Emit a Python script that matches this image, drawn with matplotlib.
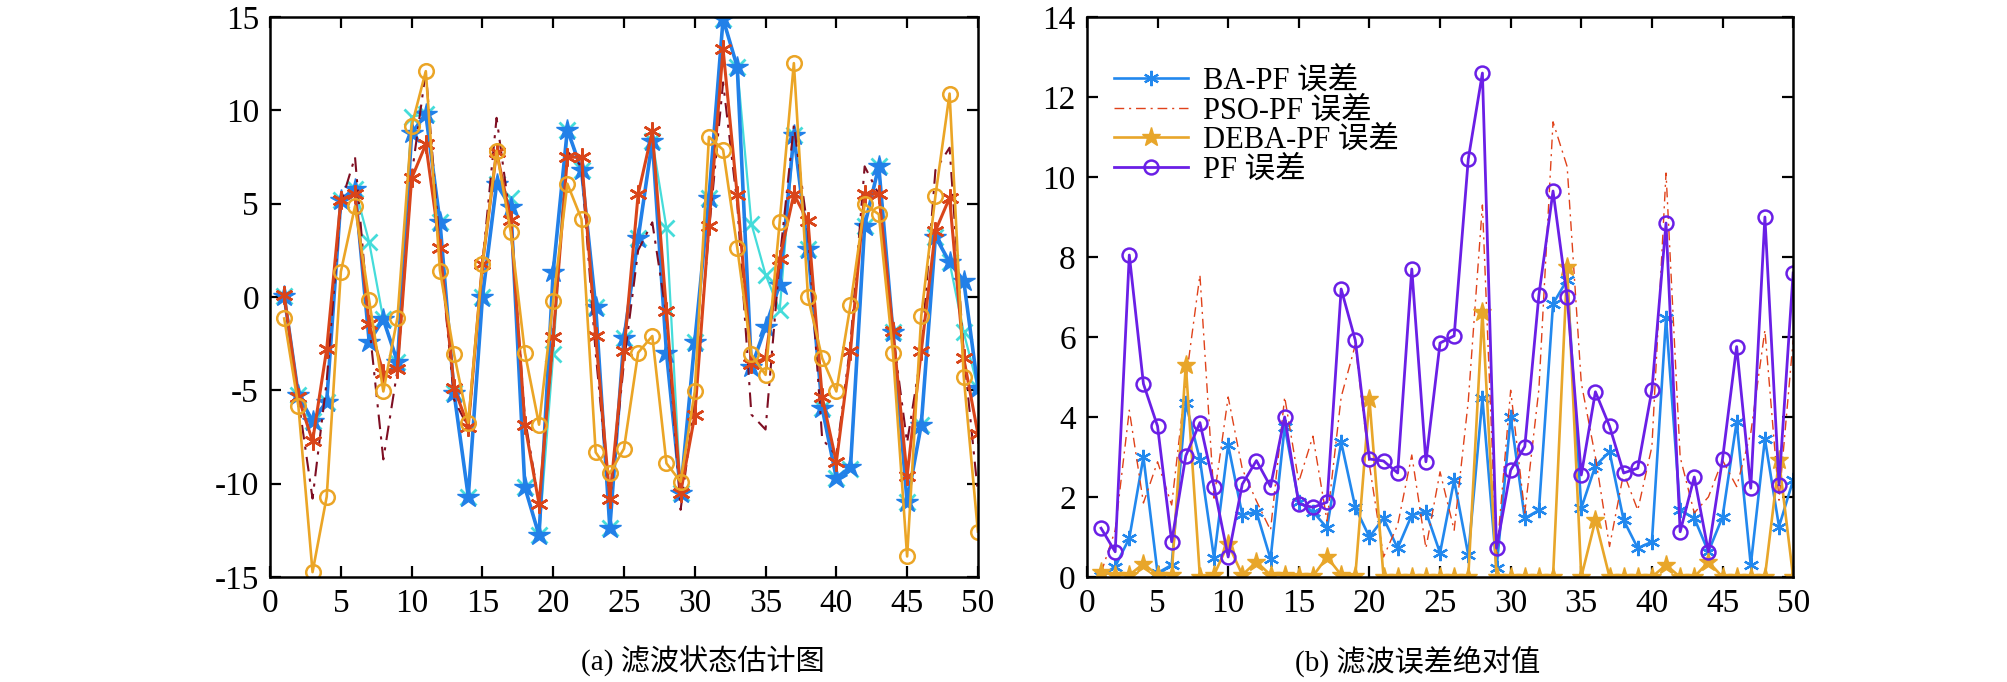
import numpy as np
import matplotlib
matplotlib.use('Agg')
import matplotlib.pyplot as plt

plt.rcParams['font.family'] = ['Liberation Serif', 'Noto Sans CJK SC', 'DejaVu Sans']
plt.rcParams['axes.unicode_minus'] = False

k = np.arange(1, 51)

# (a) state estimates
true_state = [0.05, -5.26, -6.64, -5.6, 5.22, 5.81, 2.94, -1.2, -3.48, 9.66,
              9.8, 4.03, -5.16, -10.69, -0.02, 6.05, 5.3, -10.2, -12.77, -3.08,
              8.97, 6.8, -0.51, -12.37, -2.19, 3.14, 8.38, 3.7, -10.49, -2.39,
              5.32, 14.9, 12.33, 3.93, 1.2, -0.71, 8.68, 2.55, -5.95, -9.7,
              -9.2, 3.83, 7.0, -1.9, -10.99, -6.84, 3.24, 1.86, -1.9, -4.86]
ba_est = [0.05, -5.26, -6.64, -5.6, 5.22, 5.81, -2.39, -1.2, -3.48, 8.77,
          9.8, 4.03, -5.16, -10.69, -0.02, 6.05, 4.82, -10.2, -12.77, 1.36,
          8.97, 6.8, -0.51, -12.37, -2.19, 3.14, 8.38, -2.98, -10.49, -2.39,
          5.32, 14.9, 12.33, -3.77, -1.6, 0.67, 8.68, 2.55, -5.95, -9.7,
          -9.11, 3.83, 7.0, -1.9, -10.99, -6.84, 3.24, 1.86, 0.87, -4.86]
pso_est = [0.0, -5.5, -10.8, -4.5, 5.0, 7.5, -1.5, -8.7, -3.9, 6.5,
           12.1, 2.5, -5.5, -7.0, 1.8, 9.6, 4.0, -6.5, -11.0, -2.3,
           7.8, 7.0, -3.0, -11.0, -3.5, 2.5, 4.0, -1.0, -11.4, -5.5,
           3.5, 11.5, 5.0, -6.3, -7.1, 2.0, 9.2, 3.5, -7.6, -8.5,
           -2.5, 7.0, 5.5, -2.0, -7.8, -3.0, 6.8, 8.0, -3.0, -10.5]
deba_est = [0.1, -5.36, -7.73, -2.79, 5.22, 5.51, -1.46, -4.07, -3.87, 6.36,
            8.18, 2.65, -4.86, -6.94, 1.76, 7.79, 4.13, -6.84, -11.1, -2.13,
            7.49, 7.49, -2.09, -10.8, -2.88, 5.51, 8.87, -0.75, -10.49, -6.34,
            3.83, 13.28, 5.45, -3.58, -3.28, 2.06, 5.51, 4.05, -5.36, -8.85,
            -2.89, 5.51, 5.51, -1.8, -9.6, -2.89, 3.54, 5.32, -3.28, -7.33]
pf_est = [-1.15, -5.85, -14.74, -10.7, 1.36, 4.86, -0.18, -5.06, -1.1, 9.17,
          12.1, 1.42, -3.08, -6.74, 1.76, 7.83, 3.48, -2.98, -6.84, -0.22,
          6.07, 4.17, -8.32, -9.45, -8.12, -2.98, -2.09, -8.91, -9.9, -5.06,
          8.58, 7.89, 2.65, -3.08, -4.17, 4.03, 12.53, -0.02, -3.28, -5.06,
          -0.42, 4.98, 4.43, -2.98, -13.9, -1.0, 5.42, 10.9, -4.27, -12.57]

# (b) absolute errors
ba_err = [0.02, 0.26, 0.97, 3.0, 0.1, 0.3, 4.35, 2.93, 0.47, 3.3,
          1.55, 1.63, 0.45, 3.76, 1.88, 1.63, 1.23, 3.37, 1.74, 1.0,
          1.47, 0.72, 1.55, 1.63, 0.6, 2.42, 0.55, 4.47, 0.22, 4.0,
          1.47, 1.67, 6.83, 7.43, 1.72, 2.78, 3.13, 1.42, 0.72, 0.88,
          6.47, 1.67, 1.47, 0.63, 1.5, 3.88, 0.3, 3.45, 1.26, 2.42]
pso_err = [0.1, 1.17, 4.17, 1.85, 2.88, 1.8, 4.9, 7.55, 1.97, 4.5,
           2.7, 1.9, 1.17, 4.5, 2.38, 3.52, 1.4, 4.5, 5.8, 2.8,
           0.5, 1.3, 3.05, 0.72, 2.63, 1.17, 4.4, 9.3, 0.5, 4.67,
           1.6, 4.7, 11.38, 10.26, 4.85, 3.0, 0.76, 2.6, 1.67, 3.26,
           10.1, 3.0, 1.6, 2.0, 2.92, 2.26, 3.6, 6.17, 1.92, 5.92]
deba_err = [0.12, 0.05, 0.05, 0.33, 0.05, 0.05, 5.3, 0.0, 0.05, 0.83,
            0.05, 0.38, 0.05, 0.05, 0.02, 0.02, 0.5, 0.05, 0.02, 4.45,
            0.0, 0.0, 0.0, 0.0, 0.0, 0.0, 0.0, 6.63, 0.0, 0.0,
            0.0, 0.0, 0.0, 7.75, 0.0, 1.42, 0.0, 0.0, 0.0, 0.0,
            0.3, 0.0, 0.0, 0.38, 0.0, 0.0, 0.0, 0.0, 2.92, 0.0]
pf_err = [1.22, 0.63, 8.05, 4.83, 3.77, 0.88, 3.03, 3.86, 2.26, 0.5,
          2.32, 2.91, 2.26, 4.0, 1.83, 1.74, 1.87, 7.2, 5.92, 2.95,
          2.9, 2.6, 7.7, 2.88, 5.85, 6.03, 10.45, 12.6, 0.72, 2.67,
          3.26, 7.05, 9.65, 7.0, 2.55, 4.63, 3.77, 2.6, 2.72, 4.67,
          8.85, 1.13, 2.5, 0.63, 2.95, 5.76, 2.22, 9.0, 2.3, 7.6]

fig = plt.figure(figsize=(20.08, 6.82), dpi=100)
ax1 = fig.add_axes([0.1345, 0.154, 0.3525, 0.821])
ax2 = fig.add_axes([0.5413, 0.154, 0.3517, 0.821])

dashdot = (0, (7, 3.5, 1.5, 3.5))
asterisk = (6, 2, 0)

ax1.plot(k, true_state, '-', color='#45DCDA', lw=1.6, marker='x', ms=12, mew=2.0)
ax1.plot(k, ba_est, '-', color='#2280E8', lw=2.6, marker='*', ms=16, mew=1.0)
ax1.plot(k, pso_est, color='#7E0E22', lw=1.5, ls=dashdot)
ax1.plot(k, deba_est, '-', color='#D9451A', lw=2.2, marker=asterisk, ms=13, mew=1.8)
ax1.plot(k, pf_est, '-', color='#EBA526', lw=1.9, marker='o', ms=10.5, mfc='none', mew=1.8)
ax1.set_xlim(0, 50)
ax1.set_ylim(-15, 15)
ax1.set_yticks(np.arange(-15, 16, 5))

ax2.plot(k, ba_err, '-', color='#2288EE', lw=1.9, marker=asterisk, ms=11, mew=1.6, label='BA-PF 误差')
ax2.plot(k, pso_err, color='#E0421A', lw=1.0, ls=dashdot, label='PSO-PF 误差')
ax2.plot(k, deba_err, '-', color='#E8A62A', lw=1.9, marker='*', ms=14, label='DEBA-PF 误差')
ax2.plot(k, pf_err, '-', color='#6A1FE6', lw=2.0, marker='o', ms=10, mfc='none', mew=1.8, label='PF 误差')
ax2.set_xlim(0, 50)
ax2.set_ylim(0, 14)
ax2.set_yticks(np.arange(0, 15, 2))
ax2.legend(loc='upper left', bbox_to_anchor=(0.0, 0.96), frameon=False, fontsize=22,
           handlelength=2.4, labelspacing=0.02, handletextpad=0.5)

for ax in (ax1, ax2):
    ax.set_xticks(np.arange(0, 51, 5))
    ax.tick_params(direction='in', top=True, right=True, length=8, width=1.6,
                   labelsize=24, pad=8)
    for s in ax.spines.values():
        s.set_linewidth(1.8)

fig.text(0.350, 0.030, '(a) 滤波状态估计图', ha='center', va='center', fontsize=21)
fig.text(0.706, 0.030, '(b) 滤波误差绝对值', ha='center', va='center', fontsize=21)

fig.savefig('out.png', dpi=100)
